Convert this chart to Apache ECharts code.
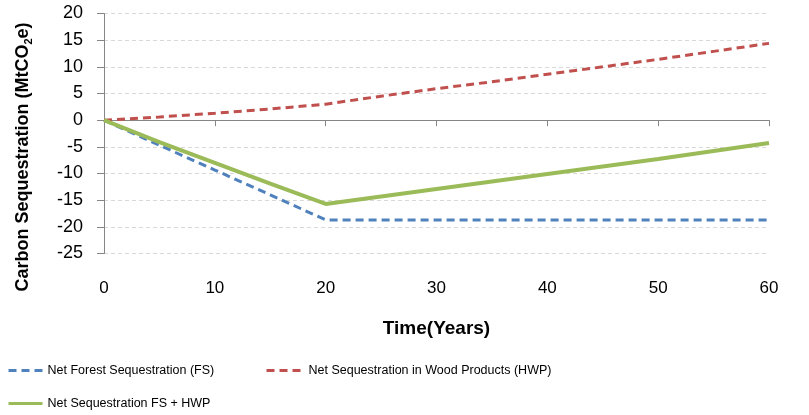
<!DOCTYPE html>
<html>
<head>
<meta charset="utf-8">
<script src="https://cdn.jsdelivr.net/npm/echarts@6/dist/echarts.min.js"></script>
<style>
html,body{margin:0;padding:0;background:#fff;}
#chart{width:809px;height:415px;}
</style>
</head>
<body>
<div id="chart"></div>
<script>
const years = [0, 5, 10, 15, 20, 25, 30, 35, 40, 45, 50, 55, 60];
const forestSeq = [0, -4.7, -9.35, -14.0, -18.7, -18.7, -18.7, -18.7, -18.7, -18.7, -18.7, -18.7, -18.7];
const woodSeq = [0, 0.6, 1.3, 2.1, 3.0, 4.5, 5.9, 7.2, 8.6, 10.0, 11.4, 12.9, 14.4];
const totalSeq = [0, -4.1, -8.0, -11.9, -15.7, -14.3, -12.9, -11.5, -10.1, -8.7, -7.3, -5.8, -4.3];
const seriesNames = ['Net Forest Sequestration (FS)', 'Net Sequestration in Wood Products (HWP)', 'Net Sequestration FS + HWP'];
const xTicks = { min: 0, max: 60, interval: 10 };
const yTicks = { min: -25, max: 20, interval: 5 };

const FONT = "'Liberation Sans', Arial, sans-serif";
const pairs = vals => years.map((x, i) => [x, vals[i]]);

const legendBase = {
  padding: 0, itemHeight: 14, itemGap: 4,
  itemStyle: { opacity: 0 },
  lineStyle: { width: 3 },
  textStyle: { fontFamily: FONT, fontSize: 12.5, color: '#000' }
};

const chart = echarts.init(document.getElementById('chart'), null, { renderer: 'canvas' });
chart.setOption({
  animation: false,
  backgroundColor: '#ffffff',
  grid: { left: 104, right: 40, top: 13.5, bottom: 161.5, containLabel: false },
  legend: [
    Object.assign({ data: [seriesNames[0]], left: 7, top: 364, itemWidth: 34 }, legendBase),
    Object.assign({ data: [seriesNames[1]], left: 265, top: 364, itemWidth: 37 }, legendBase),
    Object.assign({ data: [seriesNames[2]], left: 7, top: 397, itemWidth: 34 }, legendBase)
  ],
  graphic: [{
    type: 'text', x: 23, y: 157, rotation: Math.PI / 2,
    style: {
      text: '{a|Carbon Sequestration (MtCO}{b|2}{a|e)}',
      align: 'center', verticalAlign: 'middle',
      rich: {
        a: { fontFamily: FONT, fontSize: 18, fontWeight: 'bold', fill: '#000', lineHeight: 22, verticalAlign: 'middle' },
        b: { fontFamily: FONT, fontSize: 11, fontWeight: 'bold', fill: '#000', lineHeight: 22, verticalAlign: 'bottom', padding: [8, 0, 0, 0] }
      }
    }
  }],
  xAxis: [
    {
      type: 'value', min: xTicks.min, max: xTicks.max, interval: xTicks.interval,
      position: 'bottom',
      axisLine: { show: false, onZero: false },
      axisTick: { show: false },
      splitLine: { show: false },
      axisLabel: { fontFamily: FONT, fontSize: 17, color: '#000', margin: 26 },
      name: 'Time(Years)', nameLocation: 'middle', nameGap: 66,
      nameTextStyle: { fontFamily: FONT, fontSize: 19, fontWeight: 'bold', color: '#000' }
    },
    {
      type: 'value', min: xTicks.min, max: xTicks.max, interval: xTicks.interval,
      position: 'bottom',
      axisLine: { show: true, onZero: true, onZeroAxisIndex: 0, lineStyle: { color: '#868686', width: 1 } },
      axisTick: { show: true, length: 6, lineStyle: { color: '#868686' } },
      axisLabel: { show: false },
      splitLine: { show: false }
    }
  ],
  yAxis: {
    type: 'value', min: yTicks.min, max: yTicks.max, interval: yTicks.interval,
    axisLine: { show: true, onZero: false, lineStyle: { color: '#868686', width: 1 } },
    axisTick: { show: true, length: 7, lineStyle: { color: '#868686' } },
    axisLabel: { fontFamily: FONT, fontSize: 18, color: '#000', margin: 21 },
    splitLine: { show: true, lineStyle: { color: '#d9d9d9', type: [4, 3], width: 1 } }
  },
  series: [
    {
      name: seriesNames[0], type: 'line', xAxisIndex: 0, data: pairs(forestSeq),
      symbol: 'none', color: '#4f81bd', z: 3,
      lineStyle: { color: '#4f81bd', width: 3, type: [8, 5] }
    },
    {
      name: seriesNames[1], type: 'line', xAxisIndex: 0, data: pairs(woodSeq),
      symbol: 'none', color: '#c0504d', z: 3,
      lineStyle: { color: '#c0504d', width: 3, type: [8, 5] }
    },
    {
      name: seriesNames[2], type: 'line', xAxisIndex: 0, data: pairs(totalSeq),
      symbol: 'none', color: '#9bbb59', z: 4,
      lineStyle: { color: '#9bbb59', width: 4 }
    }
  ]
});
</script>
</body>
</html>
